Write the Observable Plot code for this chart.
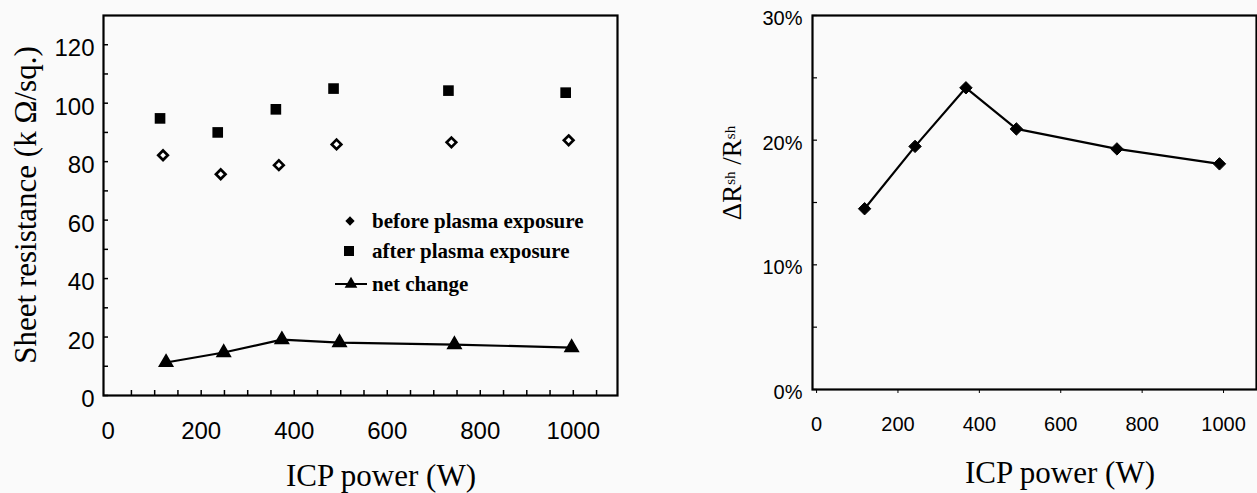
<!DOCTYPE html>
<html><head><meta charset="utf-8">
<script src="https://cdn.jsdelivr.net/npm/d3@7"></script>
<script src="https://cdn.jsdelivr.net/npm/@observablehq/plot@0.6"></script>
<style>
html,body{margin:0;padding:0;background:#fafafa;}
#wrap{position:relative;width:1257px;height:493px;overflow:hidden;background:#fafafa;}
#left{position:absolute;left:0;top:0;}
#right{position:absolute;left:640px;top:0;}
svg{overflow:visible;}
</style></head><body>
<div id="wrap"><div id="left"></div><div id="right"></div></div>
<script>
// ---- data ----
const power = [118, 242, 367, 491, 738, 990];            // ICP power (W)
const before = [82.2, 75.7, 78.8, 85.9, 86.6, 87.3];     // k ohm/sq
const after = [94.8, 90.0, 97.9, 105.0, 104.3, 103.6];   // k ohm/sq
const netChange = [11.3, 14.7, 19.1, 18.1, 17.4, 16.4];  // k ohm/sq
const ratioPct = [14.5, 19.5, 24.2, 20.9, 19.3, 18.1];   // %

const leftYTicks = [0, 10, 20, 30, 40, 50, 60, 70, 80, 90, 100, 110, 120];
const leftYLabels = [0, 20, 40, 60, 80, 100, 120];
const leftXTicks = [50, 100, 150, 200, 250, 300, 350, 400, 450, 500, 550, 600, 650, 700, 750, 800, 850, 900, 950, 1000, 1050];
const leftXLabels = [0, 200, 400, 600, 800, 1000];
const rightYTicks = [0, 5, 10, 15, 20, 25, 30];
const rightYLabels = [0, 10, 20, 30];
const rightXTicks = [0, 200, 400, 600, 800, 1000];

const legendLabels = ["before plasma exposure", "after plasma exposure", "net change"];
const xTitle = "ICP power (W)";
const leftYTitle = "Sheet resistance (k \u03A9/sq.)";

const rowsL = power.map((p, i) => ({power: p, before: before[i], after: after[i], net: netChange[i]}));
const rowsR = power.map((p, i) => ({power: p, ratio: ratioPct[i]}));

const sans = "'Liberation Sans', Arial, Helvetica, sans-serif";
const serif = "'Liberation Serif', 'Times New Roman', serif";
const plain = d => String(d);

// ---- left panel ----
const LW = 640, LH = 493, Lml = 103, Lmr = 23, Lmt = 15, Lmb = 98;
const left = Plot.plot({
  width: LW, height: LH,
  marginLeft: Lml, marginRight: Lmr, marginTop: Lmt, marginBottom: Lmb,
  style: {background: "transparent", color: "black", fontFamily: sans, overflow: "visible"},
  x: {domain: [-10, 1095]},
  y: {domain: [0, 130]},
  marks: [
    Plot.tickY(leftYTicks, {y: d => d, insetRight: LW - Lml - Lmr - 5, stroke: "black", strokeWidth: 1.5}),
    Plot.tickX(leftXTicks, {x: d => d, insetTop: LH - Lmt - Lmb - 5, stroke: "black", strokeWidth: 1.5}),
    Plot.frame({stroke: "black", strokeWidth: 2.2}),
    Plot.axisY({ticks: leftYLabels, tickSize: 0, tickPadding: 9, fontSize: 24, dy: 4, tickFormat: plain, label: null}),
    Plot.axisX({ticks: leftXLabels, tickSize: 0, tickPadding: 26, fontSize: 24, tickFormat: plain, label: null}),
    Plot.line(rowsL, {x: "power", y: "net", dx: 3, stroke: "black", strokeWidth: 2.2}),
    Plot.dot(rowsL, {x: "power", y: "net", dx: 3, symbol: "triangle", fill: "black", stroke: "black", r: 5}),
    Plot.dot(rowsL, {x: "power", y: "after", dx: -3, symbol: "square", fill: "black", r: 6}),
    Plot.dot(rowsL, {x: "power", y: "before", symbol: "diamond2", fill: "white", stroke: "black", strokeWidth: 2.7, r: 4.3})
  ]
});
document.getElementById("left").appendChild(left);

const sL = d3.select(left);
sL.append("text")
  .attr("x", 381).attr("y", 486).attr("text-anchor", "middle")
  .attr("font-family", serif).attr("font-size", 31).attr("fill", "black")
  .text(xTitle);
sL.append("text")
  .attr("transform", "translate(36,205) rotate(-90)").attr("text-anchor", "middle")
  .attr("font-family", serif).attr("font-size", 31).attr("fill", "black")
  .text(leftYTitle);

// legend
const lg = sL.append("g").attr("font-family", serif).attr("font-weight", "bold").attr("font-size", 21)
  .attr("fill", "black").attr("text-anchor", "start");
const legY = [221, 251, 284];
lg.append("path").attr("transform", `translate(350,${legY[0]})`).attr("d", d3.symbol(d3.symbolDiamond2, 55)());
lg.append("path").attr("transform", `translate(349,${legY[1]})`).attr("d", d3.symbol(d3.symbolSquare, 100)());
lg.append("line").attr("x1", 335).attr("x2", 367).attr("y1", legY[2]).attr("y2", legY[2]).attr("stroke", "black").attr("stroke-width", 2);
lg.append("path").attr("transform", `translate(351,${legY[2]})`).attr("d", d3.symbol(d3.symbolTriangle, 70)());
legendLabels.forEach((t, i) => {
  lg.append("text").attr("x", 372).attr("y", legY[i] + 7).attr("text-anchor", "start").text(t);
});

// ---- right panel ----
const RW = 617, RH = 493, Rml = 172, Rmr = 1, Rmt = 15, Rmb = 104;
const right = Plot.plot({
  width: RW, height: RH,
  marginLeft: Rml, marginRight: Rmr, marginTop: Rmt, marginBottom: Rmb,
  style: {background: "transparent", color: "black", fontFamily: sans, overflow: "visible"},
  x: {domain: [-10, 1081]},
  y: {domain: [0, 30]},
  marks: [
    Plot.tickY(rightYTicks, {y: d => d, insetRight: RW - Rml - Rmr - 5, stroke: "black", strokeWidth: 1.2}),
    Plot.frame({stroke: "black", strokeWidth: 2.2}),
    Plot.axisX({ticks: rightXTicks, tickSize: 4, tickPadding: 23, fontSize: 20, tickFormat: plain, label: null}),
    Plot.axisY({ticks: rightYLabels, tickSize: 0, tickPadding: 10, fontSize: 20, dy: 3, tickFormat: d => d + "%", label: null}),
    Plot.line(rowsR, {x: "power", y: "ratio", stroke: "black", strokeWidth: 2.2}),
    Plot.dot(rowsR, {x: "power", y: "ratio", symbol: "diamond2", fill: "black", stroke: "black", strokeWidth: 1, r: 5.6})
  ]
});
document.getElementById("right").appendChild(right);

const sR = d3.select(right);
sR.append("text")
  .attr("x", 420).attr("y", 483).attr("text-anchor", "middle")
  .attr("font-family", serif).attr("font-size", 31).attr("fill", "black")
  .text(xTitle);
const yt = sR.append("text")
  .attr("transform", "translate(101,173) rotate(-90)").attr("text-anchor", "middle")
  .attr("font-family", serif).attr("font-size", 27).attr("fill", "black");
yt.append("tspan").text("\u0394R");
yt.append("tspan").attr("font-size", 15).attr("dy", -6).text("sh");
yt.append("tspan").attr("dy", 6).text(" /R");
yt.append("tspan").attr("font-size", 15).attr("dy", -6).text("sh");
</script>
</body></html>
